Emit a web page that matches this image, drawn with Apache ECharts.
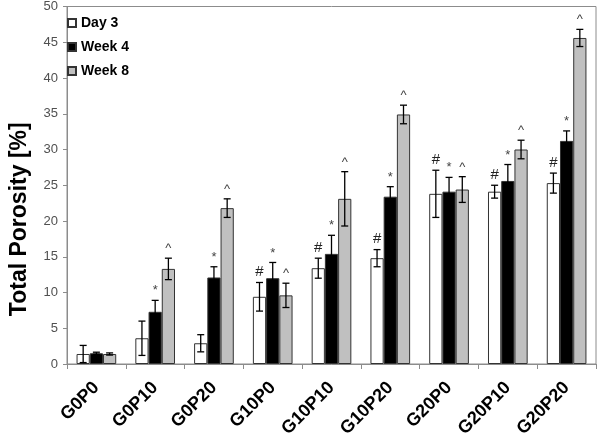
<!DOCTYPE html>
<html>
<head>
<meta charset="utf-8">
<script src="https://cdn.jsdelivr.net/npm/echarts@6/dist/echarts.min.js"></script>
<style>
html,body{margin:0;padding:0;background:#fff;}
#chart{width:600px;height:442px;}
</style>
</head>
<body>
<div id="chart"></div>
<script>
var categories = ['G0P0','G0P10','G0P20','G10P0','G10P10','G10P20','G20P0','G20P10','G20P20'];
var seriesNames = ['Day 3','Week 4','Week 8'];
var day3 = [1.4, 3.6, 2.9, 9.4, 13.4, 14.8, 23.8, 24.1, 25.3];
var week4 = [1.5, 7.3, 12.1, 12.0, 15.4, 23.4, 24.1, 25.6, 31.2];
var week8 = [1.4, 13.3, 21.8, 9.6, 23.1, 34.9, 24.4, 30.0, 45.6];
var day3Err = [1.2, 2.4, 1.2, 2.0, 1.4, 1.2, 3.3, 0.9, 1.4];
var week4Err = [0.15, 1.6, 1.5, 2.2, 2.6, 1.4, 2.0, 2.3, 1.4];
var week8Err = [0.15, 1.5, 1.3, 1.7, 3.8, 1.3, 1.8, 1.3, 1.2];
var day3Marks = ['', '', '', '#', '#', '#', '#', '#', '#'];
var week4Marks = ['', '*', '*', '*', '*', '*', '*', '*', '*'];
var week8Marks = ['', '^', '^', '^', '^', '^', '^', '^', '^'];
var yTicks = [0, 5, 10, 15, 20, 25, 30, 35, 40, 45, 50];

var FONT = "'Liberation Sans', Arial, sans-serif";
var BAR_FRAC = 0.225;
var colors = ['#ffffff', '#000000', '#c0c0c0'];
var valueSets = [day3, week4, week8];
var errSets = [day3Err, week4Err, week8Err];
var markSets = [day3Marks, week4Marks, week8Marks];

function barSeries(i) {
  return {
    name: seriesNames[i],
    type: 'bar',
    data: valueSets[i],
    barWidth: (BAR_FRAC * 100) + '%',
    barGap: '0%',
    itemStyle: { color: colors[i], borderColor: '#333', borderWidth: 1 },
    emphasis: { disabled: true },
    silent: true
  };
}

function errSeries(i) {
  var vals = valueSets[i], errs = errSets[i], marks = markSets[i];
  return {
    type: 'custom',
    silent: true,
    z: 5,
    encode: { x: 0, y: 1 },
    data: vals.map(function (v, k) { return [k, v, errs[k]]; }),
    renderItem: function (params, api) {
      var ci = api.value(0), v = api.value(1), e = api.value(2);
      var band = api.size([1, 0])[0];
      var bw = band * BAR_FRAC;
      var x = api.coord([ci, 0])[0] + (i - 1) * bw;
      var top = api.coord([ci, v + e])[1];
      var bot = api.coord([ci, v - e])[1];
      var cap = 3.5;
      var st = { stroke: '#000', lineWidth: 1.3 };
      var children = [
        { type: 'line', shape: { x1: x, y1: top, x2: x, y2: bot }, style: st },
        { type: 'line', shape: { x1: x - cap, y1: top, x2: x + cap, y2: top }, style: st },
        { type: 'line', shape: { x1: x - cap, y1: bot, x2: x + cap, y2: bot }, style: st }
      ];
      var m = marks[params.dataIndex];
      if (m) {
        children.push({
          type: 'text',
          style: {
            text: m, x: x, y: top - 3,
            align: 'center', verticalAlign: 'bottom',
            font: (m === '#' ? '15px ' : '13px ') + FONT,
            fill: m === '#' ? '#222' : '#444'
          }
        });
      }
      return { type: 'group', children: children };
    }
  };
}

var chart = echarts.init(document.getElementById('chart'), null, { renderer: 'canvas' });
chart.setOption({
  animation: false,
  backgroundColor: '#ffffff',
  textStyle: { fontFamily: FONT },
  grid: { left: 54, right: 4, top: 5, bottom: 78, show: true, borderColor: '#8c8c8c', borderWidth: 1, backgroundColor: 'transparent' },
  legend: {
    data: seriesNames,
    orient: 'vertical',
    left: 62,
    top: 11,
    itemWidth: 8,
    itemHeight: 8,
    itemGap: 10,
    icon: 'rect',
    selectedMode: false,
    textStyle: { fontFamily: FONT, fontSize: 14, fontWeight: 'bold', color: '#000' }
  },
  xAxis: {
    type: 'category',
    data: categories,
    axisLine: { lineStyle: { color: '#8c8c8c', width: 1 } },
    axisTick: { show: true, length: 5, lineStyle: { color: '#8c8c8c' } },
    axisLabel: { rotate: 45, margin: 21, fontSize: 18, fontWeight: 'bold', color: '#000', fontFamily: FONT, interval: 0 }
  },
  yAxis: {
    type: 'value',
    min: yTicks[0],
    max: yTicks[yTicks.length - 1],
    interval: yTicks[1] - yTicks[0],
    name: 'Total Porosity [%]',
    nameLocation: 'middle',
    nameGap: 36,
    nameTextStyle: { fontSize: 23, fontWeight: 'bold', color: '#000', fontFamily: FONT, padding: [0, 68, 0, 0] },
    axisLine: { show: true, lineStyle: { color: '#8c8c8c', width: 1 } },
    axisTick: { show: true, length: 4, lineStyle: { color: '#8c8c8c' } },
    splitLine: { show: false },
    axisLabel: { margin: 9, fontSize: 13, color: '#505050', fontFamily: FONT,
      formatter: function (v) { return String(v); } }
  },
  series: [barSeries(0), barSeries(1), barSeries(2), errSeries(0), errSeries(1), errSeries(2)]
});
</script>
</body>
</html>
